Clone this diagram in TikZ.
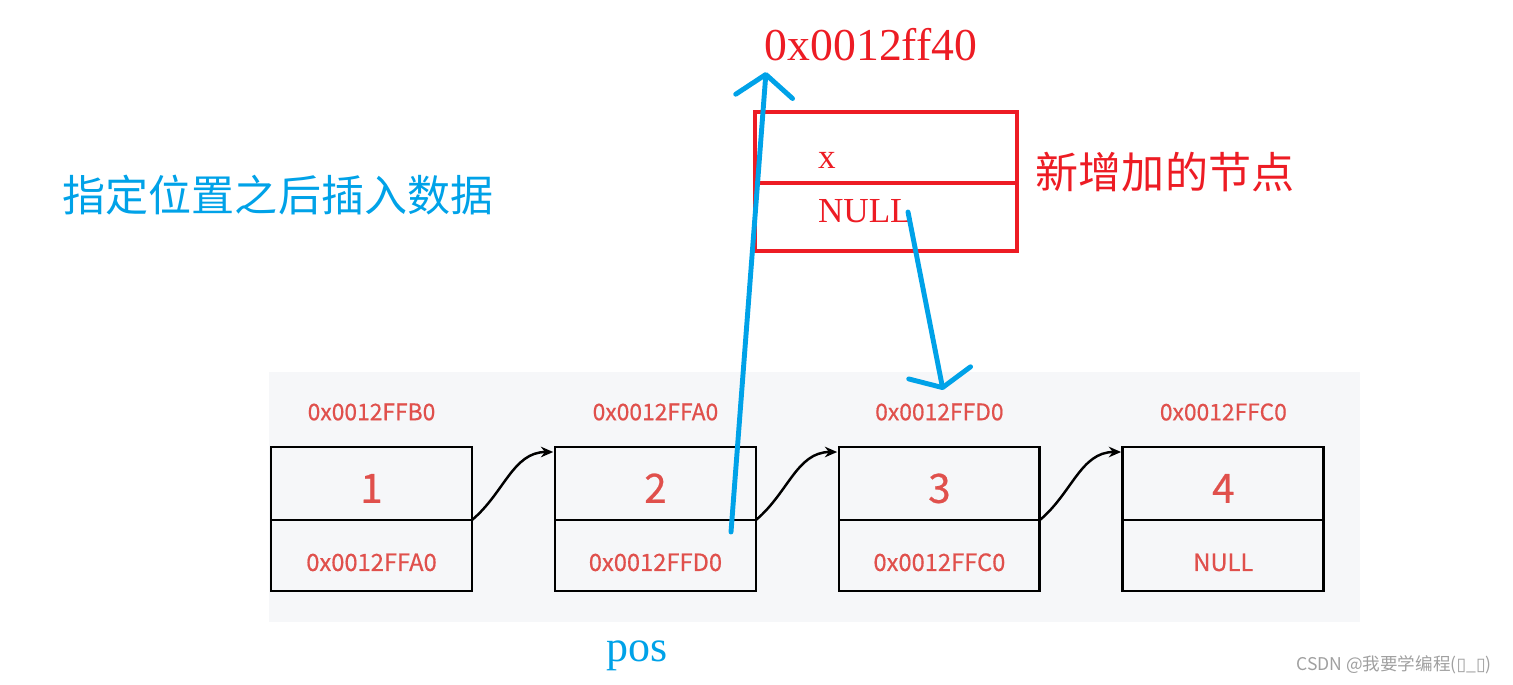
\documentclass[tikz,border=0pt]{standalone}
\usepackage{fontspec}
\setmainfont{Noto Sans CJK SC}
\newfontfamily\cellfont[FakeBold=0.6]{Noto Sans CJK SC}
\newfontfamily\latinserif{Liberation Serif}
\newfontfamily\symfont{DejaVu Sans}
\usepackage{xcolor}
\usepackage{tikz}
\usetikzlibrary{positioning,arrows.meta}
\definecolor{cellred}{HTML}{E0504C}
\definecolor{boxred}{HTML}{ED1C24}
\definecolor{inkblue}{HTML}{00A2E8}
\definecolor{panel}{HTML}{F6F7F9}
\definecolor{markgray}{HTML}{A0A0A0}

\begin{document}
\begin{tikzpicture}[x=0.02cm,y=-0.02cm,
  cell/.style={draw=black,line width=1.6pt,minimum width=4.02cm,outer sep=0pt,inner sep=0pt,text=cellred},
  value cell/.style={cell,minimum height=1.46cm,text height=22pt,text depth=0pt,font=\cellfont\fontsize{23}{23}\selectfont},
  next cell/.style={cell,minimum height=1.42cm,text height=17.6pt,text depth=0pt,font=\cellfont\fontsize{13.5}{14}\selectfont},
  addr/.style={text=cellred,font=\cellfont\fontsize{13}{13}\selectfont},
  link/.style={-{Stealth[length=7pt,width=6pt]},line width=1.4pt,shorten >=1pt},
  pen/.style={draw=inkblue,line width=2.8pt,line cap=round},
  new cell/.style={draw=boxred,line width=2.6pt,minimum width=5.24cm,outer sep=0pt,inner ysep=0pt,inner xsep=1.26cm,text width=2.72cm,text depth=0pt,align=left,text=boxred,font=\latinserif\fontsize{20}{20}\selectfont}]
    \useasboundingbox (0,0) rectangle (1513,685);
    \fill[panel] (269,372) rectangle (1360,622);

    \node[value cell] (n1) at (371.5,483.5) {1};
    \node[next cell] (p1) [below=0pt of n1] {0x0012FFA0};
    \node[value cell] (n2) [right=1.66cm of n1] {2};
    \node[next cell] (p2) [below=0pt of n2] {0x0012FFD0};
    \node[value cell] (n3) [right=1.66cm of n2] {3};
    \node[next cell] (p3) [below=0pt of n3] {0x0012FFC0};
    \node[value cell] (n4) [right=1.66cm of n3] {4};
    \node[next cell] (p4) [below=0pt of n4] {NULL};

    \node[addr] (a1) at ([yshift=0.7cm]n1.north) {0x0012FFB0};
    \node[addr] (a2) at ([yshift=0.7cm]n2.north) {0x0012FFA0};
    \node[addr] (a3) at ([yshift=0.7cm]n3.north) {0x0012FFD0};
    \node[addr] (a4) at ([yshift=0.7cm]n4.north) {0x0012FFC0};

    \draw[link] (p1.north east) to[out=40,in=180] ([yshift=-0.1cm]n2.north west);
    \draw[link] (p2.north east) to[out=40,in=180] ([yshift=-0.1cm]n3.north west);
    \draw[link] (p3.north east) to[out=40,in=180] ([yshift=-0.1cm]n4.north west);

    \node[new cell,minimum height=1.42cm,text height=24pt] (nx) at (886,147.5) {x};
    \node[new cell,minimum height=1.36cm,text height=6.4pt] (nn) [below=0pt of nx] {NULL};
    \node[text=boxred,font=\latinserif\fontsize{26}{26}\selectfont] (newaddr) at (871,45) {0x0012ff40};
    \node[text=boxred,font=\fontsize{24.5}{25}\selectfont] (newlabel) at (1165,172) {新增加的节点};
    \node[text=inkblue,font=\fontsize{24.5}{25}\selectfont] (title) at (278,195) {指定位置之后插入数据};
    \node[text=inkblue,font=\latinserif\fontsize{25}{25}\selectfont] (pos) at (637,656) {pos};
    \node[text=markgray,font=\fontsize{10}{10}\selectfont] (mark) at (1394,665) {CSDN @我要学编程({\symfont ▯}\_{\symfont ▯})};

    \coordinate (from2) at (731,532);
    \coordinate (upto) at (766,72);
    \coordinate (fromnull) at (908,212);
    \coordinate (downto) at (943,390);
    \draw[pen,-{Straight Barb[length=0.44cm,width=1.14cm,round]}] (from2) -- (upto);
    \draw[pen,-{Straight Barb[length=0.3cm,width=1.26cm,round]}] (fromnull) -- (downto);
\end{tikzpicture}
\end{document}
